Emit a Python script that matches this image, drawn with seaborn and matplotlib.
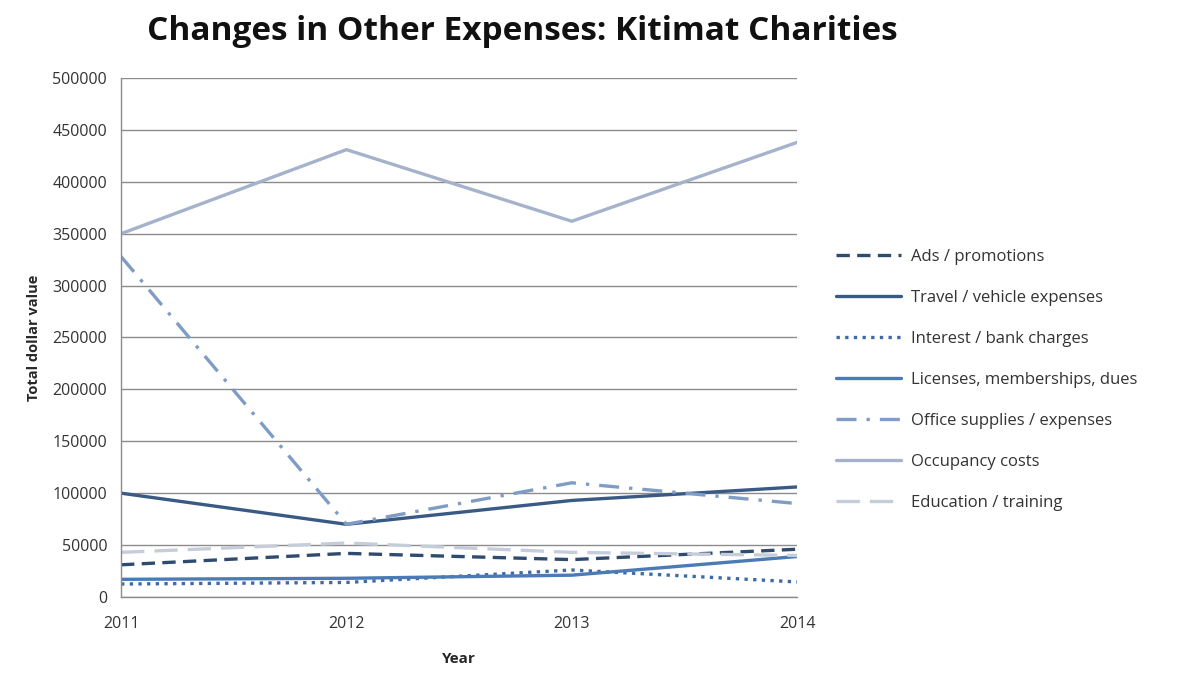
import matplotlib
matplotlib.use("Agg")
import matplotlib.pyplot as plt
import pandas as pd
import seaborn as sns

# Data
years = [2011, 2012, 2013, 2014]
series_names = [
    "Ads / promotions",
    "Travel / vehicle expenses",
    "Interest / bank charges",
    "Licenses, memberships, dues",
    "Office supplies / expenses",
    "Occupancy costs",
    "Education / training",
]
ads = [31000, 42000, 36000, 46000]
travel = [100000, 70000, 93000, 106000]
interest = [12500, 14000, 26000, 14500]
licenses = [17000, 18000, 21000, 39000]
office = [328000, 70000, 110000, 90000]
occupancy = [350000, 431000, 362000, 438000]
education = [43000, 52000, 43000, 40000]

values = [ads, travel, interest, licenses, office, occupancy, education]

colors = ["#2F4B6E", "#3A5A86", "#3E6BA6", "#4A7BB6", "#7F9CC4", "#A4B2CB", "#C6CDDA"]
dash_styles = [(4, 2.2), "", (1, 1.6), "", (6, 3, 1, 3), "", (7, 3)]

rows = []
for name, vals in zip(series_names, values):
    for yr, v in zip(years, vals):
        rows.append({"Year": yr, "Value": v, "Series": name})
df = pd.DataFrame(rows)

sns.set_style("white")
plt.rcParams["font.family"] = ["Open Sans", "DejaVu Sans"]

fig = plt.figure(figsize=(11.81, 6.76), dpi=100)
ax = fig.add_axes([0.1025, 0.1169, 0.5725, 0.7677])

sns.lineplot(
    data=df, x="Year", y="Value", hue="Series", style="Series",
    hue_order=series_names, style_order=series_names,
    palette=dict(zip(series_names, colors)),
    dashes=dict(zip(series_names, dash_styles)),
    linewidth=2.4, ax=ax, legend=True,
)

ax.set_xlim(2011, 2014)
ax.set_ylim(0, 500000)
ax.set_yticks(range(0, 500001, 50000))
ax.set_xticks(years)
ax.set_xticklabels([str(y) for y in years])
ax.yaxis.grid(True, color="#8C8C8C", linewidth=1)
ax.xaxis.grid(False)
for side in ["top", "right"]:
    ax.spines[side].set_visible(False)
for side in ["left", "bottom"]:
    ax.spines[side].set_color("#8C8C8C")
    ax.spines[side].set_linewidth(1)
ax.tick_params(axis="both", labelsize=11.5, colors="#333333", length=0)
ax.tick_params(axis="x", pad=14)
ax.tick_params(axis="y", pad=10)

ax.set_xlabel("Year", fontsize=11, fontweight="bold", labelpad=14)
ax.set_ylabel("Total dollar value", fontsize=10.5, fontweight="bold", labelpad=8)

fig.text(0.442, 0.953, "Changes in Other Expenses: Kitimat Charities",
         ha="center", va="center", fontsize=24, fontweight="bold", color="#111111")

handles, labels = ax.get_legend_handles_labels()
leg = ax.legend(handles, labels, loc="upper left", bbox_to_anchor=(1.035, 0.70),
                frameon=False, fontsize=12, labelspacing=1.5,
                handlelength=3.9, handletextpad=0.6)
for t in leg.get_texts():
    t.set_color("#333333")

fig.savefig("out.png", dpi=100)
